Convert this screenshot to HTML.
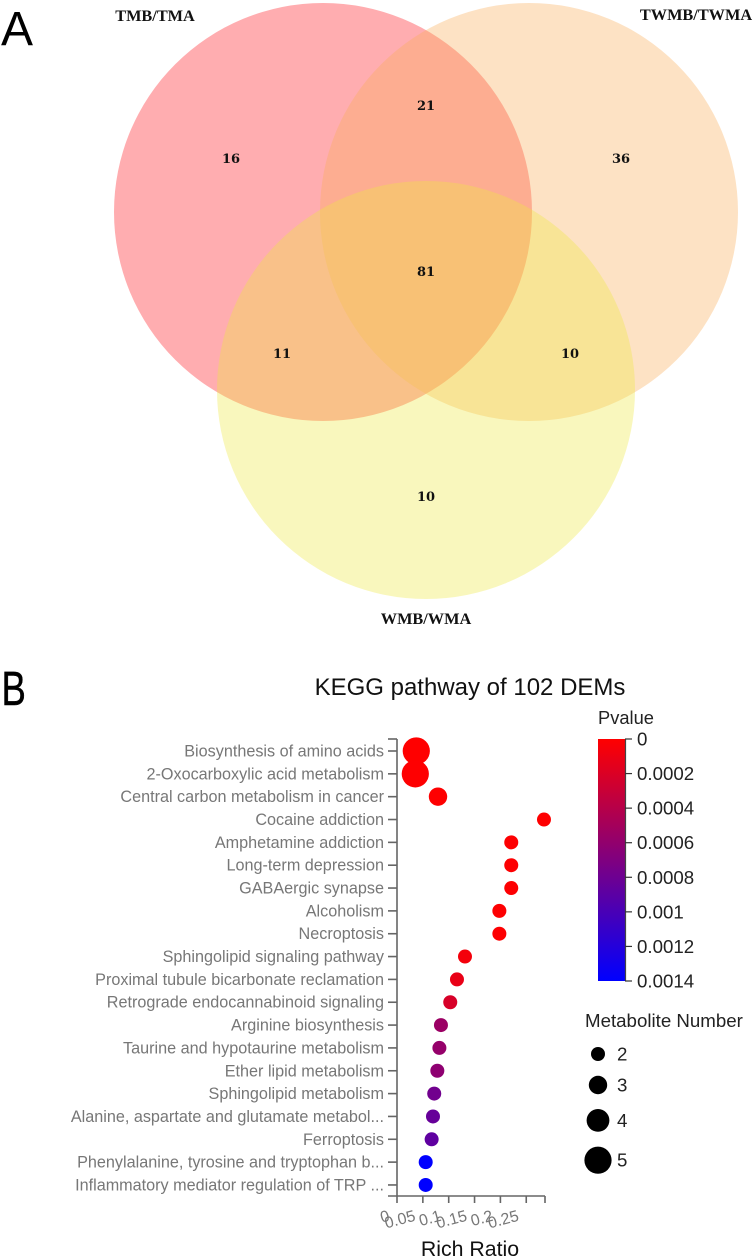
<!DOCTYPE html>
<html lang="en">
<head>
<meta charset="utf-8">
<title>Venn diagram and KEGG pathway bubble chart</title>
<style>
html,body{margin:0;padding:0;background:#fff;}
svg{display:block;}
text{font-family:"Liberation Sans",sans-serif;}
.venn-count{font-family:"DejaVu Serif","Liberation Serif",serif;font-weight:700;font-size:13px;fill:#111;text-anchor:middle;}
.venn-set{font-family:"Liberation Serif",serif;font-weight:700;font-size:16.3px;fill:#111;text-anchor:middle;}
</style>
</head>
<body>
<svg id="figure" width="754" height="1258" viewBox="0 0 754 1258" xmlns="http://www.w3.org/2000/svg">
  <defs>
    <linearGradient id="pvalue-gradient" x1="0" y1="0" x2="0" y2="1">
      <stop offset="0" stop-color="#ff0000"/>
      <stop offset="1" stop-color="#0000ff"/>
    </linearGradient>
  </defs>
  <rect width="754" height="1258" fill="#fff"/>

  <text x="1" y="45" font-size="48" fill="#000">A</text>
  <text transform="translate(1.5 705) scale(0.76 1)" font-size="48" fill="#000" stroke="#000" stroke-width="0.5">B</text>

  <g id="venn">
    <circle cx="323" cy="212" r="209" fill="rgb(255,0,8)" fill-opacity="0.32"/>
    <circle cx="529" cy="212" r="209" fill="rgb(249,173,88)" fill-opacity="0.354"/>
    <circle cx="426" cy="390" r="209" fill="rgb(238,232,64)" fill-opacity="0.345"/>
    <text class="venn-set" x="155" y="21">TMB/TMA</text>
    <text class="venn-set" x="696" y="20">TWMB/TWMA</text>
    <text class="venn-set" x="426" y="624">WMB/WMA</text>
    <text class="venn-count" x="231" y="163">16</text>
    <text class="venn-count" x="426" y="110">21</text>
    <text class="venn-count" x="621" y="163">36</text>
    <text class="venn-count" x="426" y="276">81</text>
    <text class="venn-count" x="282" y="358">11</text>
    <text class="venn-count" x="570" y="358">10</text>
    <text class="venn-count" x="426" y="501">10</text>
  </g>

  <text x="470" y="695" font-size="24" fill="#111" text-anchor="middle">KEGG pathway of 102 DEMs</text>
  <g id="bubble-chart"></g>
  <text x="470" y="1256" font-size="21.3" fill="#111" text-anchor="middle">Rich Ratio</text>

  <text x="598" y="724" font-size="18.3" fill="#222">Pvalue</text>
  <rect x="598" y="739" width="27" height="242" fill="url(#pvalue-gradient)"/>
  <g id="pvalue-axis"></g>

  <text x="585" y="1027" font-size="18.7" fill="#222">Metabolite Number</text>
  <g id="size-legend"></g>
</svg>

<script>
var categories = [
  "Biosynthesis of amino acids",
  "2-Oxocarboxylic acid metabolism",
  "Central carbon metabolism in cancer",
  "Cocaine addiction",
  "Amphetamine addiction",
  "Long-term depression",
  "GABAergic synapse",
  "Alcoholism",
  "Necroptosis",
  "Sphingolipid signaling pathway",
  "Proximal tubule bicarbonate reclamation",
  "Retrograde endocannabinoid signaling",
  "Arginine biosynthesis",
  "Taurine and hypotaurine metabolism",
  "Ether lipid metabolism",
  "Sphingolipid metabolism",
  "Alanine, aspartate and glutamate metabol...",
  "Ferroptosis",
  "Phenylalanine, tyrosine and tryptophan b...",
  "Inflammatory mediator regulation of TRP ..."
];
var richRatio = [0.0373, 0.0354, 0.0793, 0.2843, 0.221, 0.221, 0.221, 0.198, 0.198, 0.1315, 0.116, 0.103, 0.085, 0.082, 0.078, 0.072, 0.0696, 0.067, 0.0555, 0.0555];
var pValues = [0.000002, 0.000003, 0.000004, 0.000008, 0.00001, 0.00001, 0.00001, 0.00001, 0.00001, 0.00006, 0.00012, 0.00022, 0.00055, 0.00058, 0.00062, 0.00078, 0.00084, 0.00088, 0.0014, 0.0014];
var metaboliteCounts = [5, 5, 3, 2, 2, 2, 2, 2, 2, 2, 2, 2, 2, 2, 2, 2, 2, 2, 2, 2];
var xTickValues = [0, 0.05, 0.1, 0.15, 0.2, 0.25];
var xTickLabels = ["0", "0.05", "0.1", "0.15", "0.2", "0.25"];
var pvalueTicks = [0, 0.0002, 0.0004, 0.0006, 0.0008, 0.001, 0.0012, 0.0014];
var pvalueTickLabels = ["0", "0.0002", "0.0004", "0.0006", "0.0008", "0.001", "0.0012", "0.0014"];
var sizeLegendValues = [2, 3, 4, 5];

var NS = "http://www.w3.org/2000/svg";
var AXIS_COLOR = "#666";
var plotLeft = 397, plotRight = 545, plotTop = 739, plotBottom = 1196;
var firstRowY = 751, rowStep = 22.84;

function xScale(v) { return plotLeft + v * 517; }
function yScale(i) { return firstRowY + i * rowStep; }
function rScale(n) { return 7 + (n - 2) * 2.2; }
function pvalueY(p) { return 739 + (p / 0.0014) * 242; }
function pvalueColor(p) {
  var t = Math.max(0, Math.min(1, p / 0.0014));
  return "rgb(" + Math.round(255 * (1 - t)) + ",0," + Math.round(255 * t) + ")";
}
function make(tag, parent, attrs, content) {
  var el = document.createElementNS(NS, tag);
  for (var k in attrs) { el.setAttribute(k, attrs[k]); }
  if (content !== undefined) { el.textContent = content; }
  parent.appendChild(el);
  return el;
}

var chart = document.getElementById("bubble-chart");
var el;

el = make("line", chart, {x1: plotLeft, x2: plotLeft, y1: plotTop, y2: plotBottom, stroke: AXIS_COLOR, "stroke-width": 1.6});


el = make("line", chart, {x1: 388, x2: plotRight, y1: plotBottom, y2: plotBottom, stroke: AXIS_COLOR, "stroke-width": 1.6});


el = make("line", chart, {x1: 388, x2: plotLeft, y1: plotTop, y2: plotTop, stroke: AXIS_COLOR, "stroke-width": 1.6});


el = make("line", chart, {x1: plotRight, x2: plotRight, y1: plotBottom, y2: plotBottom + 7, stroke: AXIS_COLOR, "stroke-width": 1.6});



xTickValues.forEach(function (v, i) {
  var x = xScale(v);
  var tick = make("line", chart, {x1: x, x2: x, y1: plotBottom, y2: plotBottom + 7, stroke: AXIS_COLOR, "stroke-width": 1.6});
  
  
  var lx = x - 8, ly = 1215;
  var label = make("text", chart, {x: lx, y: ly, dy: "0.35em", "font-size": 16, fill: "#777", "text-anchor": "end", transform: "rotate(-15 " + lx + " " + ly + ")"}, xTickLabels[i]);
  
  
});

categories.forEach(function (name, i) {
  var y = yScale(i);
  var tick = make("line", chart, {x1: 388, x2: plotLeft, y1: y, y2: y, stroke: AXIS_COLOR, "stroke-width": 1.6});
  
  
  var label = make("text", chart, {x: 384, y: y + 5.5, "font-size": 16.2, fill: "#777", "text-anchor": "end"}, name);
  
  
});

categories.forEach(function (name, i) {
  var dot = make("circle", chart, {cx: xScale(richRatio[i]), cy: yScale(i), r: rScale(metaboliteCounts[i]), fill: pvalueColor(pValues[i])});
  
  
});

var pvalueAxis = document.getElementById("pvalue-axis");
el = make("line", pvalueAxis, {x1: 625.5, x2: 625.5, y1: 739, y2: 981, stroke: "#444", "stroke-width": 1.2});


pvalueTicks.forEach(function (p, i) {
  var y = pvalueY(p);
  var tick = make("line", pvalueAxis, {x1: 625, x2: 632, y1: y, y2: y, stroke: "#333", "stroke-width": 1.2});
  
  
  var label = make("text", pvalueAxis, {x: 637, y: y + 6.5, "font-size": 18.7, fill: "#222"}, pvalueTickLabels[i]);
  
  
});

var sizeLegend = document.getElementById("size-legend");
var sizeLegendY = 1054;
sizeLegendValues.forEach(function (n) {
  var r = rScale(n);
  var c = make("circle", sizeLegend, {cx: 598, cy: sizeLegendY, r: r, fill: "#000"});
  
  
  var t = make("text", sizeLegend, {x: 617, y: sizeLegendY + 6.5, "font-size": 18.7, fill: "#222"}, String(n));
  
  
  sizeLegendY += 2 * r + 17;
});
</script>
</body>
</html>
